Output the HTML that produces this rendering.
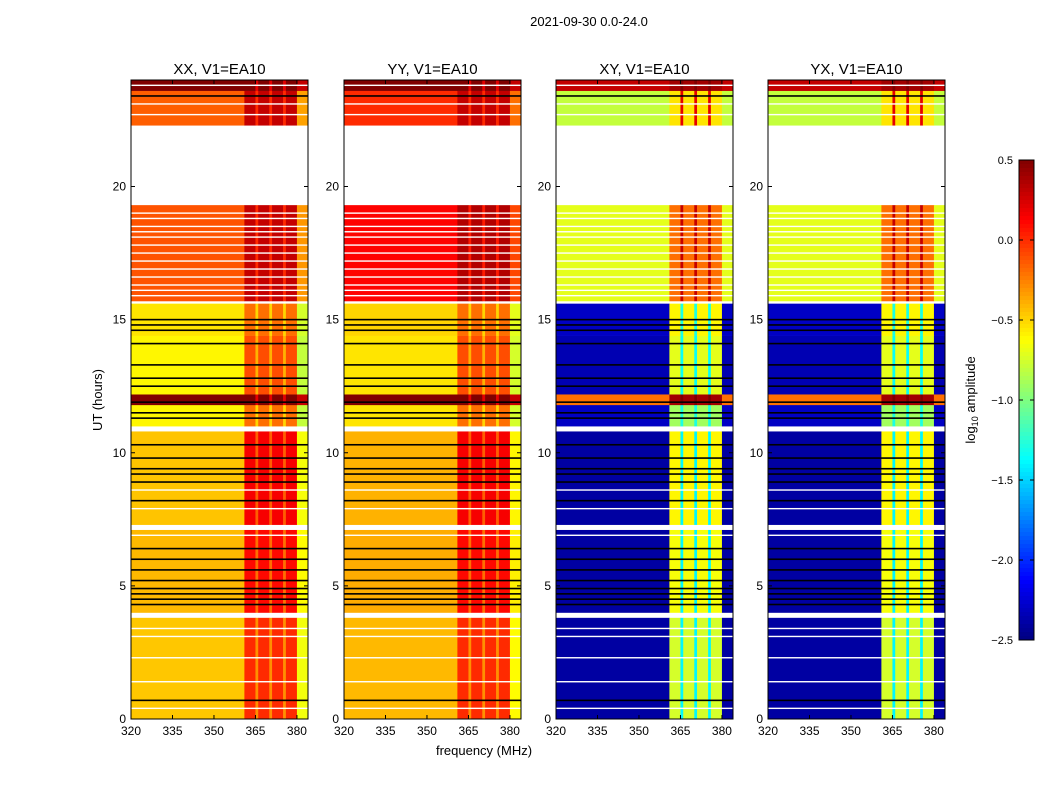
<!DOCTYPE html>
<html><head><meta charset="utf-8"><style>
body{margin:0;background:#fff;font-family:"Liberation Sans",sans-serif}
svg text{font-family:"Liberation Sans",sans-serif;fill:#000}
</style></head><body>
<svg id="fig" width="1050" height="800" xmlns="http://www.w3.org/2000/svg">
<text x="589" y="26" font-size="13" text-anchor="middle">2021-09-30 0.0-24.0</text>
<text x="484" y="755" font-size="13" text-anchor="middle">frequency (MHz)</text>
<text transform="translate(102,400) rotate(-90)" font-size="13" text-anchor="middle">UT (hours)</text>
<text transform="translate(975,400) rotate(-90)" font-size="13" text-anchor="middle">log<tspan font-size="9" dy="3">10</tspan><tspan dy="-3"> amplitude</tspan></text>
</svg>
<script>
// ---- data ----
const panelTitles = ["XX, V1=EA10","YY, V1=EA10","XY, V1=EA10","YX, V1=EA10"];
const segStart = [0, 4.0, 7.3, 11.0, 11.8, 12.2, 14.4, 15.7, 22.3, 23.6];
const segEnd   = [3.8, 7.1, 10.8, 11.8, 12.2, 14.4, 15.6, 19.3, 23.6, 24.0];
const xxBase = [-0.46,-0.42,-0.45,-0.6,  0.5,-0.6, -0.55,-0.12,-0.15, 0.5];
const xxRfi  = [ 0.0,  0.1,  0.15,-0.2,  0.5,-0.1, -0.2,  0.3,  0.3,  0.5];
const yyBase = [-0.42,-0.38,-0.4,-0.55, 0.5,-0.55,-0.5,  0.12, 0.0,  0.5];
const yyRfi  = [ 0.0,  0.1,  0.15,-0.2,  0.5,-0.1, -0.2,  0.35, 0.3,  0.5];
const xyBase = [-2.4,-2.4, -2.4, -2.3, -0.2,-2.35,-2.3, -0.7, -0.8,  0.3];
const xyRfi  = [-0.75,-0.65,-0.6,-0.9,  0.4,-0.7, -0.6, -0.2, -0.55, 0.4];
const yxBase = [-2.4,-2.4, -2.4, -2.3, -0.2,-2.35,-2.3, -0.7, -0.8,  0.3];
const yxRfi  = [-0.75,-0.65,-0.6,-0.9,  0.4,-0.7, -0.6, -0.2, -0.55, 0.4];
const bandLo   = [320, 361, 365, 366, 370, 371, 375, 376, 380];
const bandHi   = [361, 365, 366, 370, 371, 375, 376, 380, 384];
const bandKind = ["base","rfi","gap","rfi","gap","rfi","gap","rfi","edge"];
const blackLines = [0.7,4.3,4.5,4.7,4.9,5.2,5.6,6.0,6.4,8.2,8.9,9.2,9.4,9.8,10.3,11.3,11.5,11.9,12.5,12.8,13.3,14.1,14.6,14.8,15.0,23.4];
const whiteLines = [0.4,1.4,2.3,3.1,3.4,6.9,7.9,8.6,15.9,16.1,16.3,16.6,16.9,17.2,17.5,17.8,18.1,18.3,18.5,18.8,19.0,22.7,23.1,23.8];
const xTicks = [320,335,350,365,380];
const yTicks = [0,5,10,15,20];
const cbTicks = [0.5,0.0,-0.5,-1.0,-1.5,-2.0,-2.5];
// ---- layout ----
const NS="http://www.w3.org/2000/svg";
const svg=document.getElementById('fig');
const panelX=[131,344,556,768], pw=177, py=80, ph=639;
const fMin=320,fMax=384,tMax=24,vMin=-2.5,vMax=0.5;
function jet(v){let t=(v-vMin)/(vMax-vMin);t=Math.max(0,Math.min(1,t));
 const f=x=>Math.round(255*Math.max(0,Math.min(1,1.5-Math.abs(4*t-x))));
 return `rgb(${f(3)},${f(2)},${f(1)})`;}
function mk(tag,attrs,parent){const e=document.createElementNS(NS,tag);for(const k in attrs)e.setAttribute(k,attrs[k]);(parent||svg).appendChild(e);return e;}
const sets=[[xxBase,xxRfi,false],[yyBase,yyRfi,false],[xyBase,xyRfi,true],[yxBase,yxRfi,true]];
sets.forEach((s,p)=>{
 const x0=panelX[p];
 const xs=f=>x0+(f-fMin)/(fMax-fMin)*pw;
 const ys=t=>py+ph-(t/tMax)*ph;
 const g=mk('g',{});
 
 
 for(let i=0;i<segStart.length;i++){
  for(let b=0;b<bandLo.length;b++){
   const k=bandKind[b];let v;
   if(k==="base")v=s[0][i];else if(k==="rfi")v=s[1][i];
   else if(k==="gap")v=s[2]?s[0][i]+1.0:s[1][i]-0.3;
   else v=s[2]?s[0][i]:s[0][i]-0.2;
   const r=mk('rect',{x:xs(bandLo[b]),y:ys(segEnd[i]),width:xs(bandHi[b])-xs(bandLo[b])+0.3,height:ys(segStart[i])-ys(segEnd[i])+0.3,fill:jet(v)},g);
   
   
  }
 }
 blackLines.forEach(t=>{const l=mk('rect',{x:x0,y:ys(t)-0.8,width:pw,height:1.6,fill:'#000'},g);
  });
 whiteLines.forEach(t=>{const l=mk('rect',{x:x0,y:ys(t)-0.7,width:pw,height:1.4,fill:'#fff'},g);
  });
 const fr=mk('rect',{x:x0,y:py,width:pw,height:ph,fill:'none',stroke:'#000','stroke-width':1});
 
 const tt=mk('text',{x:x0+pw/2,y:py-6,'font-size':15,'text-anchor':'middle'});tt.textContent=panelTitles[p];
 
 xTicks.forEach(f=>{const X=xs(f);
  mk('line',{x1:X,x2:X,y1:py+ph,y2:py+ph-4,stroke:'#000'});mk('line',{x1:X,x2:X,y1:py,y2:py+4,stroke:'#000'});
  const t=mk('text',{x:X,y:py+ph+16,'font-size':12,'text-anchor':'middle'});t.textContent=f;
  });
 yTicks.forEach(h=>{const Y=ys(h);
  mk('line',{x1:x0,x2:x0+4,y1:Y,y2:Y,stroke:'#000'});mk('line',{x1:x0+pw,x2:x0+pw-4,y1:Y,y2:Y,stroke:'#000'});
  const t=mk('text',{x:x0-5,y:Y+4,'font-size':12,'text-anchor':'end'});t.textContent=h;
  });
});
// colorbar
const cbx=1019,cby=160,cbw=15,cbh=480;
const cg=mk('g',{});
for(let i=0;i<120;i++){const v=vMax-(i+0.5)/120*(vMax-vMin);
 mk('rect',{x:cbx,y:cby+i*cbh/120,width:cbw,height:cbh/120+0.5,fill:jet(v)},cg);}
mk('rect',{x:cbx,y:cby,width:cbw,height:cbh,fill:'none',stroke:'#000'},cg);
cbTicks.forEach(v=>{const Y=cby+(vMax-v)/(vMax-vMin)*cbh;
 mk('line',{x1:cbx,x2:cbx+4,y1:Y,y2:Y,stroke:'#000'},cg);
 mk('line',{x1:cbx+cbw-4,x2:cbx+cbw,y1:Y,y2:Y,stroke:'#000'},cg);
 const t=mk('text',{x:cbx-6,y:Y+4,'font-size':11,'text-anchor':'end'},cg);t.textContent=v.toFixed(1).replace('-','\u2212');
 });
</script>
</body></html>
